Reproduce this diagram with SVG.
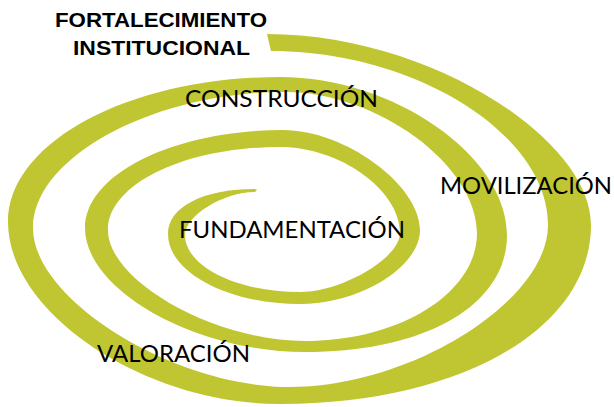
<svg xmlns="http://www.w3.org/2000/svg" width="614" height="407" viewBox="0 0 614 407">
<style>
.band{fill:#c0c632;stroke:none}
.lbl{font-family:Lato,"Liberation Sans",Arial,sans-serif;font-size:23px;font-weight:400;fill:#000}
.ttl{font-family:"Liberation Sans",Arial,sans-serif;font-size:20px;font-weight:bold;fill:#000}
</style>
<rect width="614" height="407" fill="#fff"/>
<g id="spiral">
<path class="band" d="M267,34 C429,34 591,139 591,225 C591,329 460,404 280,404 C144,404 8,313 8,222 C8,142 130,77 280,77 C394,77 507,156 507,235 C507,305 426,352 305,352 C195,352 85,290 85,228 C85,174 174,130 283,130 C345,130 420,185 420,230 C420,267 360,304 300,304 C227,304 168,272 168,234 C168,207 203,189 255,189 L257,190 L255,192 C223,192 185,216 185,235 C185,266 236,292 300,292 C342,292 400,258 400,233 C400,190 340,147 280,147 C185,147 108,184 108,230 C108,281 214,341 305,341 C400,341 477,293 477,233 C477,165 377,92 285,92 C154,92 33,157 33,228 C33,300 174,387 290,387 C411,387 548,301 548,225 C548,134 415,51 271,51 Z"/>
</g>
<g id="title">
<text class="ttl" x="55" y="27" textLength="212" lengthAdjust="spacingAndGlyphs">FORTALECIMIENTO</text>
<text class="ttl" x="73" y="55" textLength="177" lengthAdjust="spacingAndGlyphs">INSTITUCIONAL</text>
</g>
<g id="construccion"><text class="lbl" x="185" y="107" textLength="193" lengthAdjust="spacingAndGlyphs">CONSTRUCCIÓN</text></g>
<g id="movilizacion"><text class="lbl" x="440" y="194" textLength="172" lengthAdjust="spacingAndGlyphs">MOVILIZACIÓN</text></g>
<g id="fundamentacion"><text class="lbl" x="179" y="238" textLength="226" lengthAdjust="spacingAndGlyphs">FUNDAMENTACIÓN</text></g>
<g id="valoracion"><text class="lbl" x="97" y="362" textLength="153" lengthAdjust="spacingAndGlyphs">VALORACIÓN</text></g>
<g id="connectors"></g>
</svg>
